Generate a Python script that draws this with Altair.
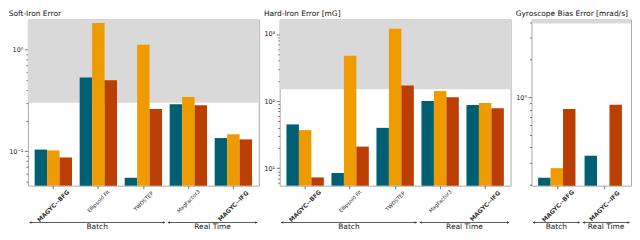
import altair as alt
import pandas as pd

# ---------------- data ----------------
series_names = ["Series A", "Series B", "Series C"]
series_colors = ["#005f73", "#ee9b00", "#bb3e03"]

categories_main = ["MAGYC--BFG", "Ellipsoid Fit", "TWOSTEP", "MagFactor3", "MAGYC--IFG"]
categories_gyro = ["MAGYC--BFG", "MAGYC--IFG"]

soft_a = [0.104, 0.53, 0.055, 0.29, 0.135]
soft_b = [0.102, 1.82, 1.115, 0.341, 0.147]
soft_c = [0.087, 0.50, 0.26, 0.284, 0.131]

hard_a = [45, 8.5, 40, 100, 87.5]
hard_b = [37, 474, 1194, 141, 94]
hard_c = [7.3, 21, 171, 114, 78.6]

gyro_a = [0.228, 0.342]
gyro_b = [0.272, None]
gyro_c = [0.81, 0.875]

groups_main = ["Batch", "Real Time"]
groups_main_start = [0, 3]
groups_main_end = [3, 5]
groups_gyro = ["Batch", "Real Time"]
groups_gyro_start = [0, 1]
groups_gyro_end = [1, 2]

soft_domain = [0.046, 1.97]
hard_domain = [5.5, 1645]
gyro_domain = [0.197, 4.2]
soft_shade = 0.3
hard_shade = 150
gyro_shade = 3.9

soft_major = [0.1, 1]
soft_major_labels = ["10⁻¹", "10⁰"]
soft_minor = [0.05, 0.06, 0.07, 0.08, 0.09, 0.2, 0.3, 0.4, 0.5, 0.6, 0.7, 0.8, 0.9]
hard_major = [10, 100, 1000]
hard_major_labels = ["10¹", "10²", "10³"]
hard_minor = [6, 7, 8, 9, 20, 30, 40, 50, 60, 70, 80, 90, 200, 300, 400, 500, 600, 700, 800, 900]
gyro_major = [1]
gyro_major_labels = ["10⁰"]
gyro_minor = [0.2, 0.3, 0.4, 0.5, 0.6, 0.7, 0.8, 0.9, 2, 3, 4]

H = 167
FONT = "DejaVu Sans"


def make_panel(title, cats, series_vals, domain, shade_from, majors, major_labels,
               minors, g_names, g_start, g_end, width, pad_inner, pad_outer):
    rows = []
    for s, vals in zip(series_names, series_vals):
        for c, v in zip(cats, vals):
            if v is not None:
                rows.append({"category": c, "series": s, "value": v})
    df = pd.DataFrame(rows)

    yscale = alt.Scale(type="log", domain=domain, nice=False)
    major_test = " || ".join(f"datum.value == {m}" for m in majors)
    label_expr = "".join(f"datum.value == {m} ? '{l}' : " for m, l in zip(majors, major_labels)) + "''"
    yaxis = alt.Axis(
        values=majors + minors, labelExpr=label_expr, title=None, domain=False, grid=False,
        tickSize={"condition": {"test": major_test, "value": 3.5}, "value": 2},
        tickColor="#555555", tickWidth=0.8, labelFontSize=6.5, labelPadding=1.5,
        labelOverlap=False, labelColor="#222222",
    )
    bold_test = "indexof(datum.label, 'MAGYC') >= 0"
    xaxis = alt.Axis(
        title=None, domain=False, labelAngle=-45, labelAlign="center", labelBaseline="middle",
        labelPadding={"condition": {"test": bold_test, "value": 17}, "value": 12},
        labelFontSize={"condition": {"test": bold_test, "value": 6}, "value": 5.2},
        labelFontWeight={"condition": {"test": bold_test, "value": "bold"}, "value": "normal"},
        labelColor="#333333",
        tickSize=3, tickColor="#555555", tickWidth=0.8, labelOverlap=False, labelFlush=False,
        labelBound=False,
    )

    shade = alt.Chart(pd.DataFrame({"lo": [shade_from], "hi": [domain[1]]})).mark_rect(
        color="#d9d9d9"
    ).encode(
        x=alt.value(0), x2=alt.value("width"),
        y=alt.Y("lo:Q", scale=yscale, axis=yaxis), y2="hi:Q",
    )

    bars = alt.Chart(df).mark_bar().encode(
        x=alt.X("category:N", sort=cats,
                scale=alt.Scale(paddingInner=pad_inner, paddingOuter=pad_outer), axis=xaxis),
        xOffset=alt.XOffset("series:N", sort=series_names,
                            scale=alt.Scale(paddingInner=0, paddingOuter=0)),
        y=alt.Y("value:Q", scale=yscale, axis=yaxis),
        y2=alt.datum(domain[0]),
        color=alt.Color("series:N", sort=series_names,
                        scale=alt.Scale(domain=series_names, range=series_colors), legend=None),
    )

    gdf = pd.DataFrame({"label": g_names, "start": g_start, "end": g_end})
    n = len(cats)
    xq = alt.Scale(domain=[0, n], nice=False, zero=False)
    gbase = alt.Chart(gdf)
    rule = gbase.mark_rule(color="#333", strokeWidth=0.8, xOffset=1.5, x2Offset=-1.5).encode(
        x=alt.X("start:Q", scale=xq, axis=None), x2="end:Q", y=alt.value(H + 37)
    )
    lhead = gbase.mark_point(shape="triangle-left", filled=True, size=6, color="#333",
                             opacity=1, xOffset=2.5).encode(
        x=alt.X("start:Q", scale=xq, axis=None), y=alt.value(H + 37)
    )
    rhead = gbase.mark_point(shape="triangle-right", filled=True, size=6, color="#333",
                             opacity=1, xOffset=-2.5).encode(
        x=alt.X("end:Q", scale=xq, axis=None), y=alt.value(H + 37)
    )
    text = gbase.transform_calculate(mid="(datum.start + datum.end) / 2").mark_text(
        baseline="top", fontSize=7.5, color="#222", font=FONT
    ).encode(
        x=alt.X("mid:Q", scale=xq, axis=None), y=alt.value(H + 37.5), text="label:N"
    )

    return alt.layer(shade, bars, rule, lhead, rhead, text).resolve_scale(
        x="independent"
    ).properties(
        width=width, height=H,
        title=alt.TitleParams(title, anchor="start", frame="bounds", fontSize=7.5,
                              fontWeight="normal", offset=2, font=FONT, color="#111111"),
    )


p1 = make_panel("Soft-Iron Error", categories_main, [soft_a, soft_b, soft_c], soft_domain,
                soft_shade, soft_major, soft_major_labels, soft_minor,
                groups_main, groups_main_start, groups_main_end, 232, 0.17, 0.15)
p2 = make_panel("Hard-Iron Error [mG]", categories_main, [hard_a, hard_b, hard_c], hard_domain,
                hard_shade, hard_major, hard_major_labels, hard_minor,
                groups_main, groups_main_start, groups_main_end, 232, 0.17, 0.15)
p3 = make_panel("Gyroscope Bias Error [mrad/s]", categories_gyro, [gyro_a, gyro_b, gyro_c],
                gyro_domain, gyro_shade, gyro_major, gyro_major_labels, gyro_minor,
                groups_gyro, groups_gyro_start, groups_gyro_end, 100, 0.143, 0.143)

chart = alt.hconcat(p1, p2, p3, spacing=3).properties(padding=0).configure(
    font=FONT
).configure_view(stroke="#aaaaaa", strokeWidth=1)

chart.save("out.html", embed_options={"renderer": "svg", "actions": False})
